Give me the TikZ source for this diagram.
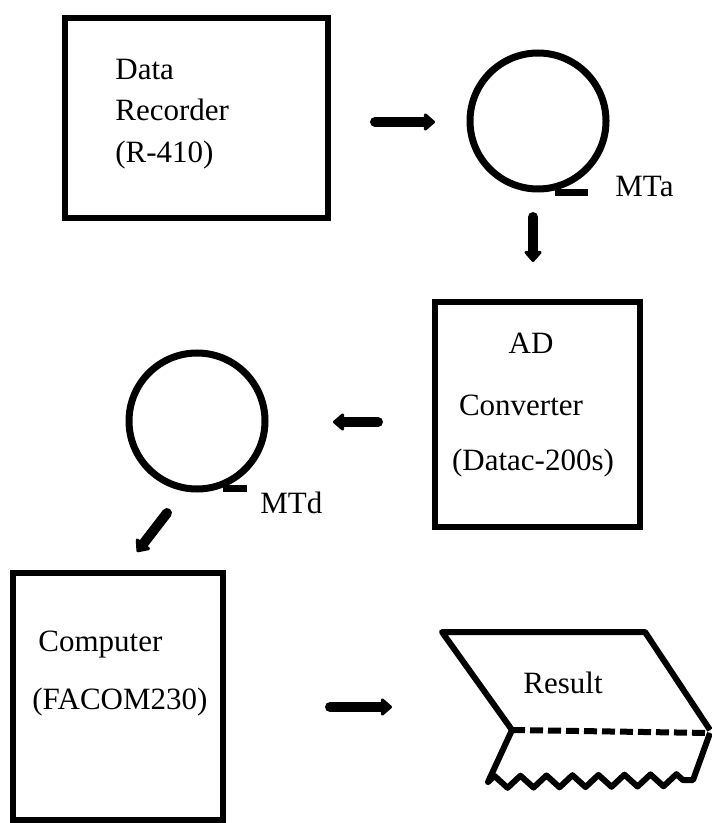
\documentclass[tikz,border=0pt]{standalone}
\usepackage{fontspec}
\setmainfont{Liberation Serif}
\usetikzlibrary{arrows.meta,decorations.pathmorphing}

\tikzset{
	unit/.style={draw, line width=3pt, inner sep=0pt},
	reel/.style={draw, circle, line width=3.5pt, minimum size=68pt, inner sep=0pt},
	txt/.style={font=\fontsize{15.5}{18}\selectfont, inner sep=0pt},
	flow/.style={line width=5pt, line cap=round, -{Triangle[length=6pt,width=10pt,round]}},
	paper/.style={line width=3pt, line join=round},
}

\begin{document}
\begin{tikzpicture}[x=0.5pt, y=-0.5pt]
		\useasboundingbox (0, 0) rectangle (711, 823);
		
		% boxes
		\node[unit, minimum width=131.5pt, minimum height=100pt] (rec) at (196.5, 118) {};
		\node[unit, minimum width=102.5pt, minimum height=112.5pt] (adc) at (537.5, 414.5) {};
		\node[unit, minimum width=105pt, minimum height=123.5pt] (comp) at (118, 696.5) {};
		
		\node[txt, anchor=west] (recl1) at (115, 70) {Data};
		\node[txt, anchor=west] (recl2) at (115, 110) {Recorder};
		\node[txt, anchor=west] (recl3) at (115, 155) {(R-410)};
		
		\node[txt] (adcl1) at (531, 343) {AD};
		\node[txt] (adcl2) at (521, 405) {Converter};
		\node[txt] (adcl3) at (533, 463) {(Datac-200s)};
		
		\node[txt, anchor=west] (compl1) at (38, 645) {Computer};
		\node[txt, anchor=west] (compl2) at (32, 702) {(FACOM230)};
		
		% tapes
		\node[reel] (mta) at (538, 121) {};
		\node[reel] (mtd) at (197, 421) {};
		\draw[line width=3.5pt] ([xshift=8.5pt]mta.south) -- ([xshift=25pt]mta.south);
		\draw[line width=3.5pt] ([xshift=13pt, yshift=2pt]mtd.south) -- ([xshift=25pt, yshift=2pt]mtd.south);
		\node[txt, anchor=west] (mtal) at (615, 187) {MTa};
		\node[txt, anchor=west] (mtdl) at (260, 503) {MTd};
		
		% arrows
		\coordinate (a1s) at (375, 122);
		\coordinate (a1e) at (435, 122);
		\coordinate (a2s) at (533, 217);
		\coordinate (a2e) at (533, 262);
		\coordinate (a3s) at (378, 422);
		\coordinate (a3e) at (333, 422);
		\coordinate (a4s) at (167, 513);
		\coordinate (a4e) at (137, 552);
		\coordinate (a5s) at (330, 707);
		\coordinate (a5e) at (392, 707);
		\draw[flow] (a1s) -- (a1e);
		\draw[flow] (a2s) -- (a2e);
		\draw[flow] (a3s) -- (a3e);
		\draw[flow] (a4s) -- (a4e);
		\draw[flow] (a5s) -- (a5e);
		
		% result sheet
		\draw[paper] (512, 730) -- (442, 632) -- (645, 632) -- (710, 730);
		\draw[paper, dash pattern=on 6.5pt off 2.5pt] (512, 730) -- (710, 733);
		\draw[paper] (512, 730) -- (488, 782)
			decorate[decoration={zigzag, segment length=13pt, amplitude=3pt}] {-- (693, 780)}
			-- (710, 733);
		\node[txt] (res) at (563, 683) {Result};
	\end{tikzpicture}
\end{document}
